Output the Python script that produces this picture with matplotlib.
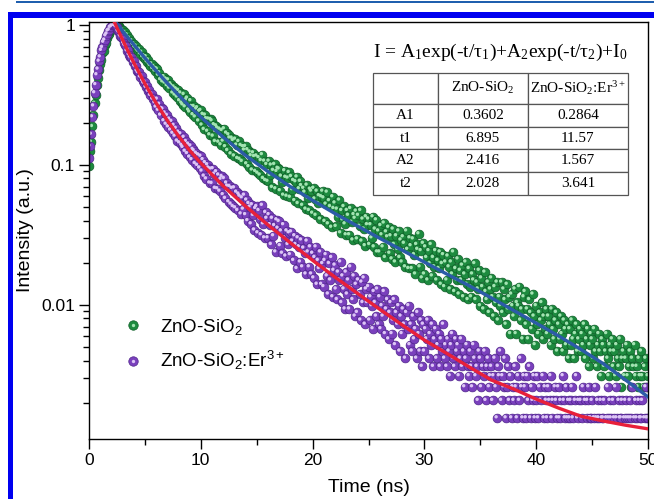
import numpy as np
import matplotlib
matplotlib.use('Agg')
import matplotlib.pyplot as plt
from matplotlib import transforms
from matplotlib.lines import Line2D
from matplotlib.legend_handler import HandlerTuple
from matplotlib.patches import Rectangle
from matplotlib.ticker import FixedLocator, LogLocator, NullFormatter, FuncFormatter

plt.rcParams['font.family'] = 'Liberation Sans'

# TCSPC decay histograms, one value per 0.1 ns channel (photon counts)
step_ns = 0.1
counts_zno = np.array([
    190, 241, 281, 362, 436, 530, 609, 718, 799, 912,
    1013, 1078, 1205, 1261, 1381, 1437, 1552, 1619, 1660, 1744,
    1776, 1841, 1852, 1901, 1923, 1910, 1898, 1887, 1816, 1801,
    1768, 1680, 1702, 1611, 1637, 1528, 1549, 1470, 1489, 1398,
    1412, 1339, 1361, 1282, 1251, 1290, 1198, 1229, 1141, 1163,
    1098, 1142, 1049, 1083, 1011, 986, 1015, 941, 972, 903,
    940, 928, 844, 878, 783, 797, 755, 822, 740, 791,
    708, 780, 681, 730, 709, 629, 693, 608, 673, 588,
    656, 554, 629, 532, 517, 614, 501, 559, 578, 475,
    460, 554, 503, 440, 503, 424, 481, 493, 397, 466,
    472, 371, 442, 345, 437, 412, 335, 410, 316, 406,
    398, 309, 373, 283, 366, 354, 280, 347, 268, 339,
    285, 349, 260, 325, 244, 316, 300, 231, 299, 288,
    223, 294, 267, 214, 283, 211, 265, 204, 260, 246,
    261, 196, 247, 187, 238, 224, 177, 235, 221, 173,
    223, 168, 217, 163, 207, 228, 154, 205, 149, 194,
    147, 205, 162, 192, 133, 176, 194, 130, 173, 182,
    180, 126, 160, 145, 117, 175, 157, 115, 155, 170,
    113, 159, 128, 149, 107, 146, 158, 102, 130, 147,
    137, 99, 131, 123, 93, 138, 111, 91, 129, 125,
    87, 131, 110, 84, 125, 102, 116, 79, 114, 125,
    112, 76, 101, 123, 73, 107, 97, 69, 114, 94,
    103, 70, 93, 82, 108, 63, 91, 78, 97, 73,
    61, 91, 84, 61, 94, 75, 56, 85, 80, 90,
    57, 84, 70, 91, 55, 79, 67, 51, 82, 72,
    79, 52, 72, 58, 82, 50, 67, 78, 46, 65,
    46, 71, 61, 50, 74, 42, 64, 59, 69, 45,
    60, 41, 67, 52, 39, 60, 48, 65, 42, 56,
    39, 59, 53, 36, 65, 48, 35, 58, 51, 35,
    57, 44, 32, 52, 48, 62, 36, 47, 30, 53,
    32, 50, 42, 29, 47, 38, 52, 31, 42, 36,
    47, 29, 40, 35, 46, 27, 38, 44, 26, 39,
    29, 43, 36, 25, 39, 32, 46, 24, 35, 29,
    41, 23, 34, 29, 37, 22, 32, 39, 27, 21,
    35, 26, 22, 32, 29, 38, 21, 28, 25, 34,
    19, 30, 26, 18, 33, 24, 21, 28, 17, 25,
    30, 22, 16, 26, 20, 28, 15, 22, 19, 28,
    17, 25, 21, 14, 27, 18, 22, 12, 23, 19,
    16, 25, 12, 20, 19, 26, 15, 18, 11, 22,
    24, 14, 18, 11, 21, 17, 13, 23, 16, 10,
    19, 14, 12, 17, 15, 20, 11, 16, 13, 18,
    12, 16, 14, 10, 18, 13, 11, 15, 17, 9,
    14, 11, 16, 12, 9, 15, 13, 10, 14, 8,
    13, 10, 15, 11, 8, 12, 14, 9, 11, 13,
    9, 12, 10, 14, 8, 11, 13, 7, 10, 12,
    11, 8, 13, 9, 7, 10, 12, 9, 6, 11,
    10, 7, 9, 12, 8, 6, 10, 9, 11, 7,
    9, 6, 10, 8, 7, 11, 5, 8, 9, 6,
    8, 10, 6, 7, 9, 5, 8, 7, 10, 6,
    7, 5, 8, 6, 9, 6, 5, 7, 8, 5,
    6])
counts_er = np.array([
    214, 262, 319, 425, 508, 631, 722, 849, 931, 1061,
    1139, 1268, 1331, 1449, 1502, 1612, 1659, 1748, 1771, 1852,
    1869, 1912, 1923, 1906, 1881, 1859, 1742, 1718, 1609, 1590,
    1538, 1431, 1379, 1371, 1262, 1274, 1181, 1136, 1142, 1049,
    1058, 979, 985, 906, 881, 889, 819, 829, 770, 741,
    751, 692, 707, 648, 659, 605, 619, 569, 580, 536,
    499, 568, 473, 522, 437, 487, 481, 398, 452, 376,
    434, 360, 409, 342, 394, 324, 369, 309, 351, 285,
    330, 277, 321, 266, 257, 303, 241, 283, 232, 271,
    219, 263, 210, 248, 243, 197, 233, 191, 227, 183,
    222, 174, 210, 160, 200, 153, 193, 183, 143, 180,
    142, 181, 165, 131, 172, 130, 163, 125, 152, 159,
    118, 154, 111, 143, 136, 105, 135, 101, 131, 97,
    132, 95, 123, 91, 119, 115, 86, 112, 93, 117,
    85, 108, 77, 102, 96, 73, 100, 84, 66, 94,
    97, 63, 91, 79, 61, 99, 73, 58, 88, 80,
    58, 85, 72, 52, 80, 60, 71, 46, 78, 68,
    76, 51, 65, 45, 72, 58, 43, 65, 52, 63,
    44, 64, 55, 40, 60, 52, 35, 58, 50, 39,
    56, 36, 49, 45, 32, 55, 46, 36, 50, 32,
    45, 30, 42, 50, 27, 40, 35, 46, 27, 38,
    26, 40, 44, 31, 23, 38, 29, 42, 22, 34,
    37, 25, 21, 33, 29, 39, 20, 31, 25, 18,
    33, 23, 29, 18, 36, 25, 21, 31, 16, 27,
    17, 29, 23, 15, 28, 20, 30, 14, 25, 20,
    26, 15, 22, 19, 13, 24, 20, 16, 25, 14,
    22, 13, 19, 16, 24, 12, 18, 21, 11, 17,
    20, 12, 15, 21, 10, 17, 14, 19, 9, 16,
    12, 18, 14, 8, 17, 13, 19, 10, 14, 9,
    16, 11, 13, 8, 17, 12, 9, 15, 7, 14,
    9, 13, 11, 15, 8, 12, 10, 14, 7, 11,
    13, 8, 10, 12, 7, 11, 9, 14, 8, 10,
    7, 11, 9, 6, 10, 12, 8, 7, 11, 9,
    10, 6, 8, 11, 7, 9, 5, 8, 10, 7,
    6, 9, 7, 5, 10, 8, 6, 7, 4, 9,
    8, 5, 7, 6, 9, 4, 7, 8, 5, 6,
    7, 4, 6, 8, 5, 3, 7, 6, 9, 4,
    6, 5, 8, 3, 5, 7, 4, 6, 3, 5,
    4, 7, 5, 3, 6, 4, 8, 5, 3, 6,
    5, 3, 6, 4, 7, 3, 5, 4, 6, 3,
    4, 6, 3, 5, 4, 1, 6, 3, 5, 4,
    3, 5, 4, 6, 3, 4, 1, 5, 4, 3,
    5, 3, 4, 1, 6, 4, 3, 5, 3, 4,
    3, 4, 5, 3, 1, 4, 6, 3, 4, 1,
    4, 3, 5, 1, 4, 3, 4, 5, 3, 3,
    4, 1, 3, 5, 3, 4, 3, 1, 4, 3,
    3, 4, 1, 3, 5, 3, 4, 3, 1, 4,
    3, 5, 3, 1, 4, 3, 3, 4, 1, 3,
    4, 3, 1, 3, 4, 3, 5, 1, 3, 4,
    3, 1, 4, 3, 3, 4, 1, 3, 5, 3,
    3])

# bi-exponential fits
fit_t_zno = [2.5, 3, 3.5, 4, 5, 6, 7, 8, 9, 10, 12, 14, 16, 18, 20, 22, 24,
             26, 28, 30, 32, 34, 36, 38, 40, 42, 44, 46, 48, 50]
fit_zno = [1.018, 0.907, 0.809, 0.724, 0.581, 0.471, 0.384, 0.316, 0.262,
           0.220, 0.158, 0.117, 0.0897, 0.0700, 0.0558, 0.0449, 0.0366,
           0.0299, 0.0246, 0.0202, 0.0166, 0.0137, 0.0112, 0.0091, 0.0074,
           0.0060, 0.0048, 0.0038, 0.0029, 0.0022]
fit_t_er = [2.3, 2.6, 3, 3.5, 4, 5, 6, 7, 8, 9, 10, 12, 14, 16, 18, 20, 22,
            24, 26, 28, 30, 32, 34, 36, 38, 40, 42, 44, 46, 48, 50]
fit_er = [1.036, 0.918, 0.785, 0.647, 0.539, 0.381, 0.277, 0.208, 0.161,
          0.127, 0.103, 0.0707, 0.0507, 0.0373, 0.0278, 0.0208, 0.0158,
          0.0121, 0.0093, 0.0072, 0.0056, 0.0045, 0.0036, 0.0029, 0.0025,
          0.00212, 0.00183, 0.0016, 0.00148, 0.00138, 0.0013]

# fit parameters table
param_names = ['A1', 't1', 'A2', 't2']
params_zno = ['0.3602', '6.895', '2.416', '2.028']
params_er = ['0.2864', '11.57', '1.567', '3.641']

label_zno = 'ZnO-SiO$\\mathregular{_2}$'
label_er = 'ZnO-SiO$\\mathregular{_2}$:Er$\\mathregular{^{3+}}$'

green, green_dk, green_hl = '#1d8b3f', '#0f5e28', '#a3e3b2'
purple, purple_dk, purple_hl = '#7a40bd', '#50258c', '#dcc5f5'

t_ns = np.arange(len(counts_zno)) * step_ns
I_zno = counts_zno / counts_zno.max()
I_er = counts_er / counts_er.max()

fig = plt.figure(figsize=(6.54, 4.99), dpi=100)
ax = fig.add_axes([89 / 654, 60 / 499, 559 / 654, 417 / 499])


def spheres(x, y, color, dark, light, s=40):
    ax.scatter(x, y, s=s, color=color, edgecolors=dark, linewidths=0.5, zorder=2)
    hl = transforms.offset_copy(ax.transData, fig=fig, x=-0.7, y=0.7, units='points')
    ax.scatter(x, y, s=s * 0.15, color=light, edgecolors='none', transform=hl, zorder=2)


spheres(t_ns, I_zno, green, green_dk, green_hl)
spheres(t_ns, I_er, purple, purple_dk, purple_hl)
ax.plot(fit_t_zno, fit_zno, color='#2c5ba8', lw=2.4, zorder=3)
ax.plot(fit_t_er, fit_er, color='#e8203a', lw=2.4, zorder=3)

ax.set_yscale('log')
ax.set_xlim(0, 50)
ax.set_ylim(0.0011, 1.05)
ax.set_xticks(np.arange(0, 51, 10))
ax.set_xticks(np.arange(5, 50, 10), minor=True)
ax.yaxis.set_major_locator(FixedLocator([0.01, 0.1, 1]))
ax.yaxis.set_minor_locator(LogLocator(base=10, subs=np.arange(2, 10)))
ax.yaxis.set_minor_formatter(NullFormatter())
ax.yaxis.set_major_formatter(FuncFormatter(lambda v, p: f'{v:g}'))
ax.tick_params(which='both', direction='out', top=False, right=False, width=1)
ax.tick_params(which='major', length=7, labelsize=12.5, pad=3)
ax.tick_params(which='minor', length=4)
for sp in ax.spines.values():
    sp.set_linewidth(1.0)

ax.set_xlabel('Time (ns)', fontsize=14)
ax.set_ylabel('Intensity (a.u.)', fontsize=14)
ax.xaxis.set_label_coords(0.5, -0.095)
ax.yaxis.set_label_coords(-0.098, 0.5)

# legend with shaded markers
def sphere_handle(color, dark, light):
    return (Line2D([], [], ls='none', marker='o', ms=6.8, mfc=color, mec=dark, mew=0.5),
            Line2D([], [], ls='none', marker='o', ms=2.4, mfc=light, mec='none'))

ax.legend([sphere_handle(green, green_dk, green_hl), sphere_handle(purple, purple_dk, purple_hl)],
          [label_zno, label_er], handler_map={tuple: HandlerTuple(ndivide=1)},
          loc='lower left', bbox_to_anchor=(0.062, 0.16), frameon=False,
          fontsize=13.5, handlelength=1.0, handletextpad=0.95,
          labelspacing=0.65, borderpad=0, borderaxespad=0)

# equation and fit table
ax.text(0.735, 0.928,
        'I = A$\\mathregular{_1}$exp(-t/τ$\\mathregular{_1}$)+A$\\mathregular{_2}$exp(-t/τ$\\mathregular{_2}$)+I$\\mathregular{_0}$',
        family='Liberation Serif', fontsize=14, ha='center', va='center',
        transform=ax.transAxes)

cell_text = [[n, a, b] for n, a, b in zip(param_names, params_zno, params_er)]
tab = ax.table(cellText=cell_text, colLabels=['', label_zno, label_er],
               cellLoc='center', bbox=[0.508, 0.585, 0.456, 0.293], zorder=5)
tab.auto_set_font_size(False)
tab.set_fontsize(11)
col_w = [65, 90, 100]
for (r, c), cell in tab.get_celld().items():
    cell.set_edgecolor('#555555')
    cell.set_linewidth(0.9)
    cell.get_text().set_fontfamily('Liberation Serif')
    cell.set_width(col_w[c])
    cell.set_height(31 if r == 0 else 22.75)

# page frame
fig.add_artist(Rectangle((16 / 654, 496 / 499), 1, 2.5 / 499, transform=fig.transFigure,
                         color='#1f5fae', lw=0))
fig.add_artist(Rectangle((8 / 654, 481 / 499), 1, 6 / 499, transform=fig.transFigure,
                         color='#0000f0', lw=0))
fig.add_artist(Rectangle((8 / 654, 0), 5.3 / 654, 487 / 499, transform=fig.transFigure,
                         color='#0000f0', lw=0))

fig.savefig('out.png', dpi=100, facecolor='white')
